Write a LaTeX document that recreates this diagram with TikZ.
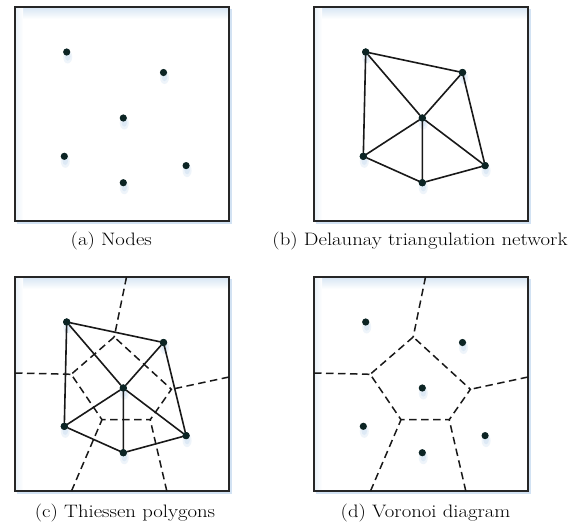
\documentclass[tikz,border=0pt]{standalone}
\usepackage{fontspec}
\setmainfont{Latin Modern Roman}[FakeStretch=1.15]
\definecolor{glow}{RGB}{165,198,230}
\definecolor{dotcol}{RGB}{12,36,36}
\newcommand\mysites[1]{%
  \foreach \n/\x/\y in {A/51.7/45, B/148.5/65.5, C/108.3/111, D/49.3/149.3, E/171.1/158.6, F/108.3/175.7}{%
    \fill[glow, opacity=0.18] (\x+1,\y+5) ellipse (4.5 and 6.5);
    \fill[glow, opacity=0.22] (\x+1,\y+4.5) ellipse (2.8 and 4.2);
    \node[site] (#1\n) at (\x,\y) {};
  }}
\newcommand\myframe[1]{%
  \fill[white] (0,0) rectangle (214,214);
  \shade[top color=glow!45, bottom color=white] (0,0) rectangle (214,12);
  \shade[left color=glow!25, right color=white] (0,0) rectangle (8,214);
  \draw[glow!50, line width=2.5pt] (1.5,216) -- (216,216) -- (216,2);
  \draw[frame] (0,0) rectangle (214,214);
  \coordinate (#1frame) at (107,107);}
\newcommand\myvor[1]{%
  \coordinate (#1V1) at (99.2,60);
  \coordinate (#1V2) at (56.2,97.3);
  \coordinate (#1V3) at (87,142.7);
  \coordinate (#1V4) at (135.2,142.7);
  \coordinate (#1V5) at (156.4,112.3);
  \coordinate (#1T) at (111.5,0);
  \coordinate (#1L) at (0,96);
  \coordinate (#1R) at (214,100);
  \coordinate (#1B1) at (56.5,214);
  \coordinate (#1B2) at (151.8,214);
  \draw[vor] (#1T) -- (#1V1);
  \draw[vor] (#1L) -- (#1V2);
  \draw[vor] (#1R) -- (#1V5);
  \draw[vor] (#1B1) -- (#1V3);
  \draw[vor] (#1B2) -- (#1V4);
  \draw[vor] (#1V1) -- (#1V2) -- (#1V3) -- (#1V4) -- (#1V5) -- cycle;}
\newcommand\mytri[1]{%
  \draw[tri] (#1A) -- (#1B) (#1A) -- (#1C) (#1A) -- (#1D) (#1B) -- (#1C)
    (#1B) -- (#1E) (#1C) -- (#1D) (#1C) -- (#1E) (#1C) -- (#1F)
    (#1D) -- (#1F) (#1F) -- (#1E);}
\begin{document}
\begin{tikzpicture}[x=1pt,y=-1pt,
  frame/.style={draw=black!85, line width=1.7pt},
  site/.style={circle, fill=dotcol, inner sep=0pt, minimum size=7.2pt},
  tri/.style={line width=1.6pt, black!90, line cap=round},
  vor/.style={line width=1.5pt, black!90, dash pattern=on 7.5pt off 4.5pt},
  captext/.style={font=\fontsize{18}{21}\selectfont, inner sep=0pt}]
\fill[white] (0,0) rectangle (577,531);
\useasboundingbox (0,0) rectangle (577,531);
% (a)
\begin{scope}[shift={(15,7)}]
  \myframe{a}
  \mysites{a}
\end{scope}
% (b)
\begin{scope}[shift={(314,7)}]
  \myframe{b}
  \mysites{b}
\end{scope}
% (c)
\begin{scope}[shift={(15,277)}]
  \myframe{c}
  \myvor{c}
  \mysites{c}
\end{scope}
% (d)
\begin{scope}[shift={(314,277)}]
  \myframe{d}
  \myvor{d}
  \mysites{d}
\end{scope}
% triangulation lines, then sites redrawn on top
\mytri{b}
\mytri{c}
\foreach \p in {b,c}{
  \foreach \n in {A,B,C,D,E,F}{
    \fill[dotcol] (\p\n) circle (3.6);
  }}
\node[captext] (capa) at (111.3,240.5) {(a) Nodes};
\node[captext] (capb) at (420,240.5) {(b) Delaunay triangulation network};
\node[captext] (capc) at (125,513) {(c) Thiessen polygons};
\node[captext] (capd) at (425.5,513) {(d) Voronoi diagram};
\end{tikzpicture}
\end{document}
